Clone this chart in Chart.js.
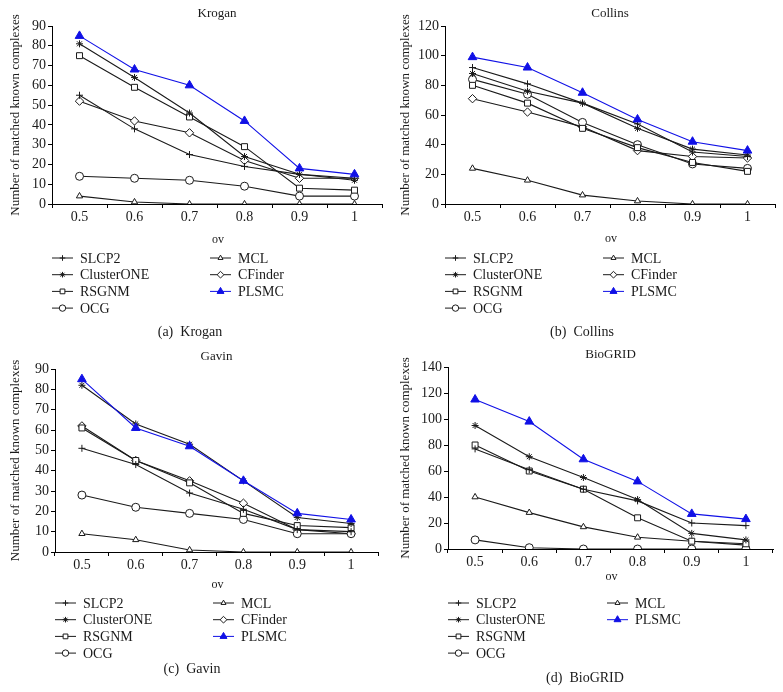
<!DOCTYPE html>
<html>
<head>
<meta charset="utf-8">
<script src="https://cdn.jsdelivr.net/npm/chart.js@4.4.0/dist/chart.umd.min.js"></script>
<style>
  body { margin: 0; background: #fff; }
  canvas { position: absolute; }
</style>
</head>
<body>
<canvas id="krogan" width="390" height="345" style="left:0;top:0"></canvas>
<canvas id="collins" width="393" height="345" style="left:390px;top:0"></canvas>
<canvas id="gavin" width="390" height="347" style="left:0;top:345px"></canvas>
<canvas id="biogrid" width="393" height="347" style="left:390px;top:345px"></canvas>
<script>
// valores de ov (eje x)
const ovLabels = ['0.5', '0.6', '0.7', '0.8', '0.9', '1'];

// Krogan
const krSLCP2 = [55, 38, 25, 19, 15, 13];
const krClusterONE = [81, 64, 46, 24, 15, 12];
const krRSGNM = [75, 59, 44, 29, 8, 7];
const krOCG = [14, 13, 12, 9, 4, 4];
const krMCL = [4, 1, 0, 0, 0, 0];
const krCFinder = [52, 42, 36, 22, 13, 13];
const krPLSMC = [85, 68, 60, 42, 18, 15];

// Collins
const coSLCP2 = [92, 81, 68, 54, 35, 32];
const coClusterONE = [88, 76, 68, 51, 37, 33];
const coRSGNM = [80, 68, 51, 38, 28, 22];
const coOCG = [84, 74, 55, 40, 27, 24];
const coMCL = [24, 16, 6, 2, 0, 0];
const coCFinder = [71, 62, 52, 36, 32, 31];
const coPLSMC = [99, 92, 75, 57, 42, 36];

// Gavin
const gaSLCP2 = [51, 43, 29, 21, 11, 10];
const gaClusterONE = [82, 63, 53, 35, 17, 14];
const gaRSGNM = [61, 45, 34, 19, 13, 12];
const gaOCG = [28, 22, 19, 16, 9, 9];
const gaMCL = [9, 6, 1, 0, 0, 0];
const gaCFinder = [62, 45, 35, 24, 11, 9];
const gaPLSMC = [85, 61, 52, 35, 19, 16];

// BioGRID
const bgSLCP2 = [77, 61, 46, 37, 20, 18];
const bgClusterONE = [95, 71, 55, 38, 12, 7];
const bgRSGNM = [80, 60, 46, 24, 6, 4];
const bgOCG = [7, 1, 0, 0, 0, 0];
const bgMCL = [40, 28, 17, 9, 6, 3];
const bgPLSMC = [115, 98, 69, 52, 27, 23];

// escalas del eje y: [min, max, paso]
const kroganYTicks = [0, 90, 10];
const collinsYTicks = [0, 120, 20];
const gavinYTicks = [0, 90, 10];
const biogridYTicks = [0, 140, 20];

const FONT = '"Liberation Serif", "DejaVu Serif", serif';
const INK = '#1a1a1a';
const BLUE = '#1010e6';

// estilo de cada método
const estilos = {
  SLCP2:      { pointStyle: 'cross',    radius: 3.5, fill: '#fff' },
  ClusterONE: { pointStyle: 'star',     radius: 3.5, fill: '#fff' },
  RSGNM:      { pointStyle: 'rect',     radius: 4.2, fill: '#fff' },
  OCG:        { pointStyle: 'circle',   radius: 4,   fill: '#fff' },
  MCL:        { pointStyle: 'triangle', radius: 3.6, fill: '#fff' },
  CFinder:    { pointStyle: 'rectRot',  radius: 4.2, fill: '#fff' },
  PLSMC:      { pointStyle: 'triangle', radius: 5,   fill: BLUE, color: BLUE }
};

const makeDataset = (name, values) => {
  const e = estilos[name];
  const color = e.color || INK;
  return {
    label: name,
    data: values,
    borderColor: color,
    borderWidth: 1.1,
    pointStyle: e.pointStyle,
    pointRadius: e.radius,
    pointHoverRadius: e.radius,
    pointBackgroundColor: e.fill,
    pointBorderColor: color,
    pointBorderWidth: 1,
    order: name === 'PLSMC' ? 0 : 1,
    tension: 0
  };
};

// título, etiqueta "ov", leyenda y pie de cada panel
const panelDecor = {
  id: 'panelDecor',
  afterDraw(chart, args, opts) {
    const ctx = chart.ctx;
    const area = chart.chartArea;
    const cx = (area.left + area.right) / 2;
    ctx.save();
    ctx.fillStyle = INK;
    ctx.textAlign = 'center';
    ctx.textBaseline = 'middle';
    ctx.font = '13px ' + FONT;
    ctx.fillText(opts.title, cx, area.top - 12);
    ctx.font = '12px ' + FONT;
    ctx.fillText('ov', cx + 1, opts.ovY);

    const sets = chart.data.datasets;
    const drawItem = (ds, x, y) => {
      ctx.strokeStyle = ds.borderColor;
      ctx.lineWidth = 1;
      ctx.beginPath();
      ctx.moveTo(x, y);
      ctx.lineTo(x + 21, y);
      ctx.stroke();
      ctx.fillStyle = ds.pointBackgroundColor;
      ctx.strokeStyle = ds.pointBorderColor;
      Chart.helpers.drawPoint(ctx, {
        pointStyle: ds.pointStyle,
        radius: ds.pointRadius * 0.8,
        rotation: 0,
        borderWidth: 1
      }, x + 10.5, y);
      ctx.fillStyle = INK;
      ctx.textAlign = 'left';
      ctx.font = '14px ' + FONT;
      ctx.fillText(ds.label, x + 28, y + 1);
    };
    opts.left.forEach((i, k) => drawItem(sets[i], opts.leftX, opts.rowY + k * 16.7));
    opts.right.forEach((i, k) => drawItem(sets[i], opts.rightX, opts.rowY + k * 16.7));

    ctx.textAlign = 'center';
    ctx.fillStyle = INK;
    ctx.font = '14px ' + FONT;
    ctx.fillText(opts.caption, opts.captionX, opts.captionY);
    ctx.restore();
  }
};

function crearPanel(id, datasets, yTicks, box, decor) {
  const canvas = document.getElementById(id);
  return new Chart(canvas.getContext('2d'), {
    type: 'line',
    data: { labels: ovLabels, datasets: datasets },
    plugins: [panelDecor],
    options: {
      responsive: false,
      animation: false,
      layout: {
        padding: { left: 0, top: box.top, right: canvas.width - box.right, bottom: 0 }
      },
      plugins: {
        legend: { display: false },
        tooltip: { enabled: false },
        panelDecor: decor
      },
      scales: {
        x: {
          offset: true,
          grid: { offset: true, drawOnChartArea: false, tickLength: 4, color: '#000' },
          border: { color: '#000', width: 1 },
          ticks: { color: INK, font: { family: FONT, size: 14 }, padding: 1, maxRotation: 0 },
          afterFit: s => { s.height = canvas.height - box.bottom; }
        },
        y: {
          min: yTicks[0],
          max: yTicks[1],
          grid: { drawOnChartArea: false, tickLength: 4, color: '#000' },
          border: { color: '#000', width: 1 },
          ticks: { stepSize: yTicks[2], autoSkip: false, color: INK, font: { family: FONT, size: 14 }, padding: 2 },
          title: {
            display: true,
            text: 'Number of matched known complexes',
            color: INK,
            font: { family: FONT, size: 13 },
            padding: { top: 8 }
          },
          afterFit: s => { s.width = box.left; }
        }
      }
    }
  });
}

crearPanel('krogan', [
  makeDataset('SLCP2', krSLCP2),
  makeDataset('ClusterONE', krClusterONE),
  makeDataset('RSGNM', krRSGNM),
  makeDataset('OCG', krOCG),
  makeDataset('MCL', krMCL),
  makeDataset('CFinder', krCFinder),
  makeDataset('PLSMC', krPLSMC)
], kroganYTicks, { left: 52, top: 26, right: 382, bottom: 204 }, {
  title: 'Krogan', ovY: 240, left: [0, 1, 2, 3], right: [4, 5, 6],
  leftX: 52, rightX: 210, rowY: 258, caption: '(a)  Krogan', captionX: 190, captionY: 332
});

crearPanel('collins', [
  makeDataset('SLCP2', coSLCP2),
  makeDataset('ClusterONE', coClusterONE),
  makeDataset('RSGNM', coRSGNM),
  makeDataset('OCG', coOCG),
  makeDataset('MCL', coMCL),
  makeDataset('CFinder', coCFinder),
  makeDataset('PLSMC', coPLSMC)
], collinsYTicks, { left: 55, top: 26, right: 385, bottom: 204 }, {
  title: 'Collins', ovY: 239, left: [0, 1, 2, 3], right: [4, 5, 6],
  leftX: 55, rightX: 213, rowY: 258, caption: '(b)  Collins', captionX: 192, captionY: 332
});

crearPanel('gavin', [
  makeDataset('SLCP2', gaSLCP2),
  makeDataset('ClusterONE', gaClusterONE),
  makeDataset('RSGNM', gaRSGNM),
  makeDataset('OCG', gaOCG),
  makeDataset('MCL', gaMCL),
  makeDataset('CFinder', gaCFinder),
  makeDataset('PLSMC', gaPLSMC)
], gavinYTicks, { left: 55, top: 24, right: 378, bottom: 207 }, {
  title: 'Gavin', ovY: 240, left: [0, 1, 2, 3], right: [4, 5, 6],
  leftX: 55, rightX: 213, rowY: 258, caption: '(c)  Gavin', captionX: 192, captionY: 324
});

crearPanel('biogrid', [
  makeDataset('SLCP2', bgSLCP2),
  makeDataset('ClusterONE', bgClusterONE),
  makeDataset('RSGNM', bgRSGNM),
  makeDataset('OCG', bgOCG),
  makeDataset('MCL', bgMCL),
  makeDataset('PLSMC', bgPLSMC)
], biogridYTicks, { left: 58, top: 22, right: 383, bottom: 204 }, {
  title: 'BioGRID', ovY: 232, left: [0, 1, 2, 3], right: [4, 5],
  leftX: 58, rightX: 217, rowY: 258, caption: '(d)  BioGRID', captionX: 195, captionY: 333
});
</script>
</body>
</html>
